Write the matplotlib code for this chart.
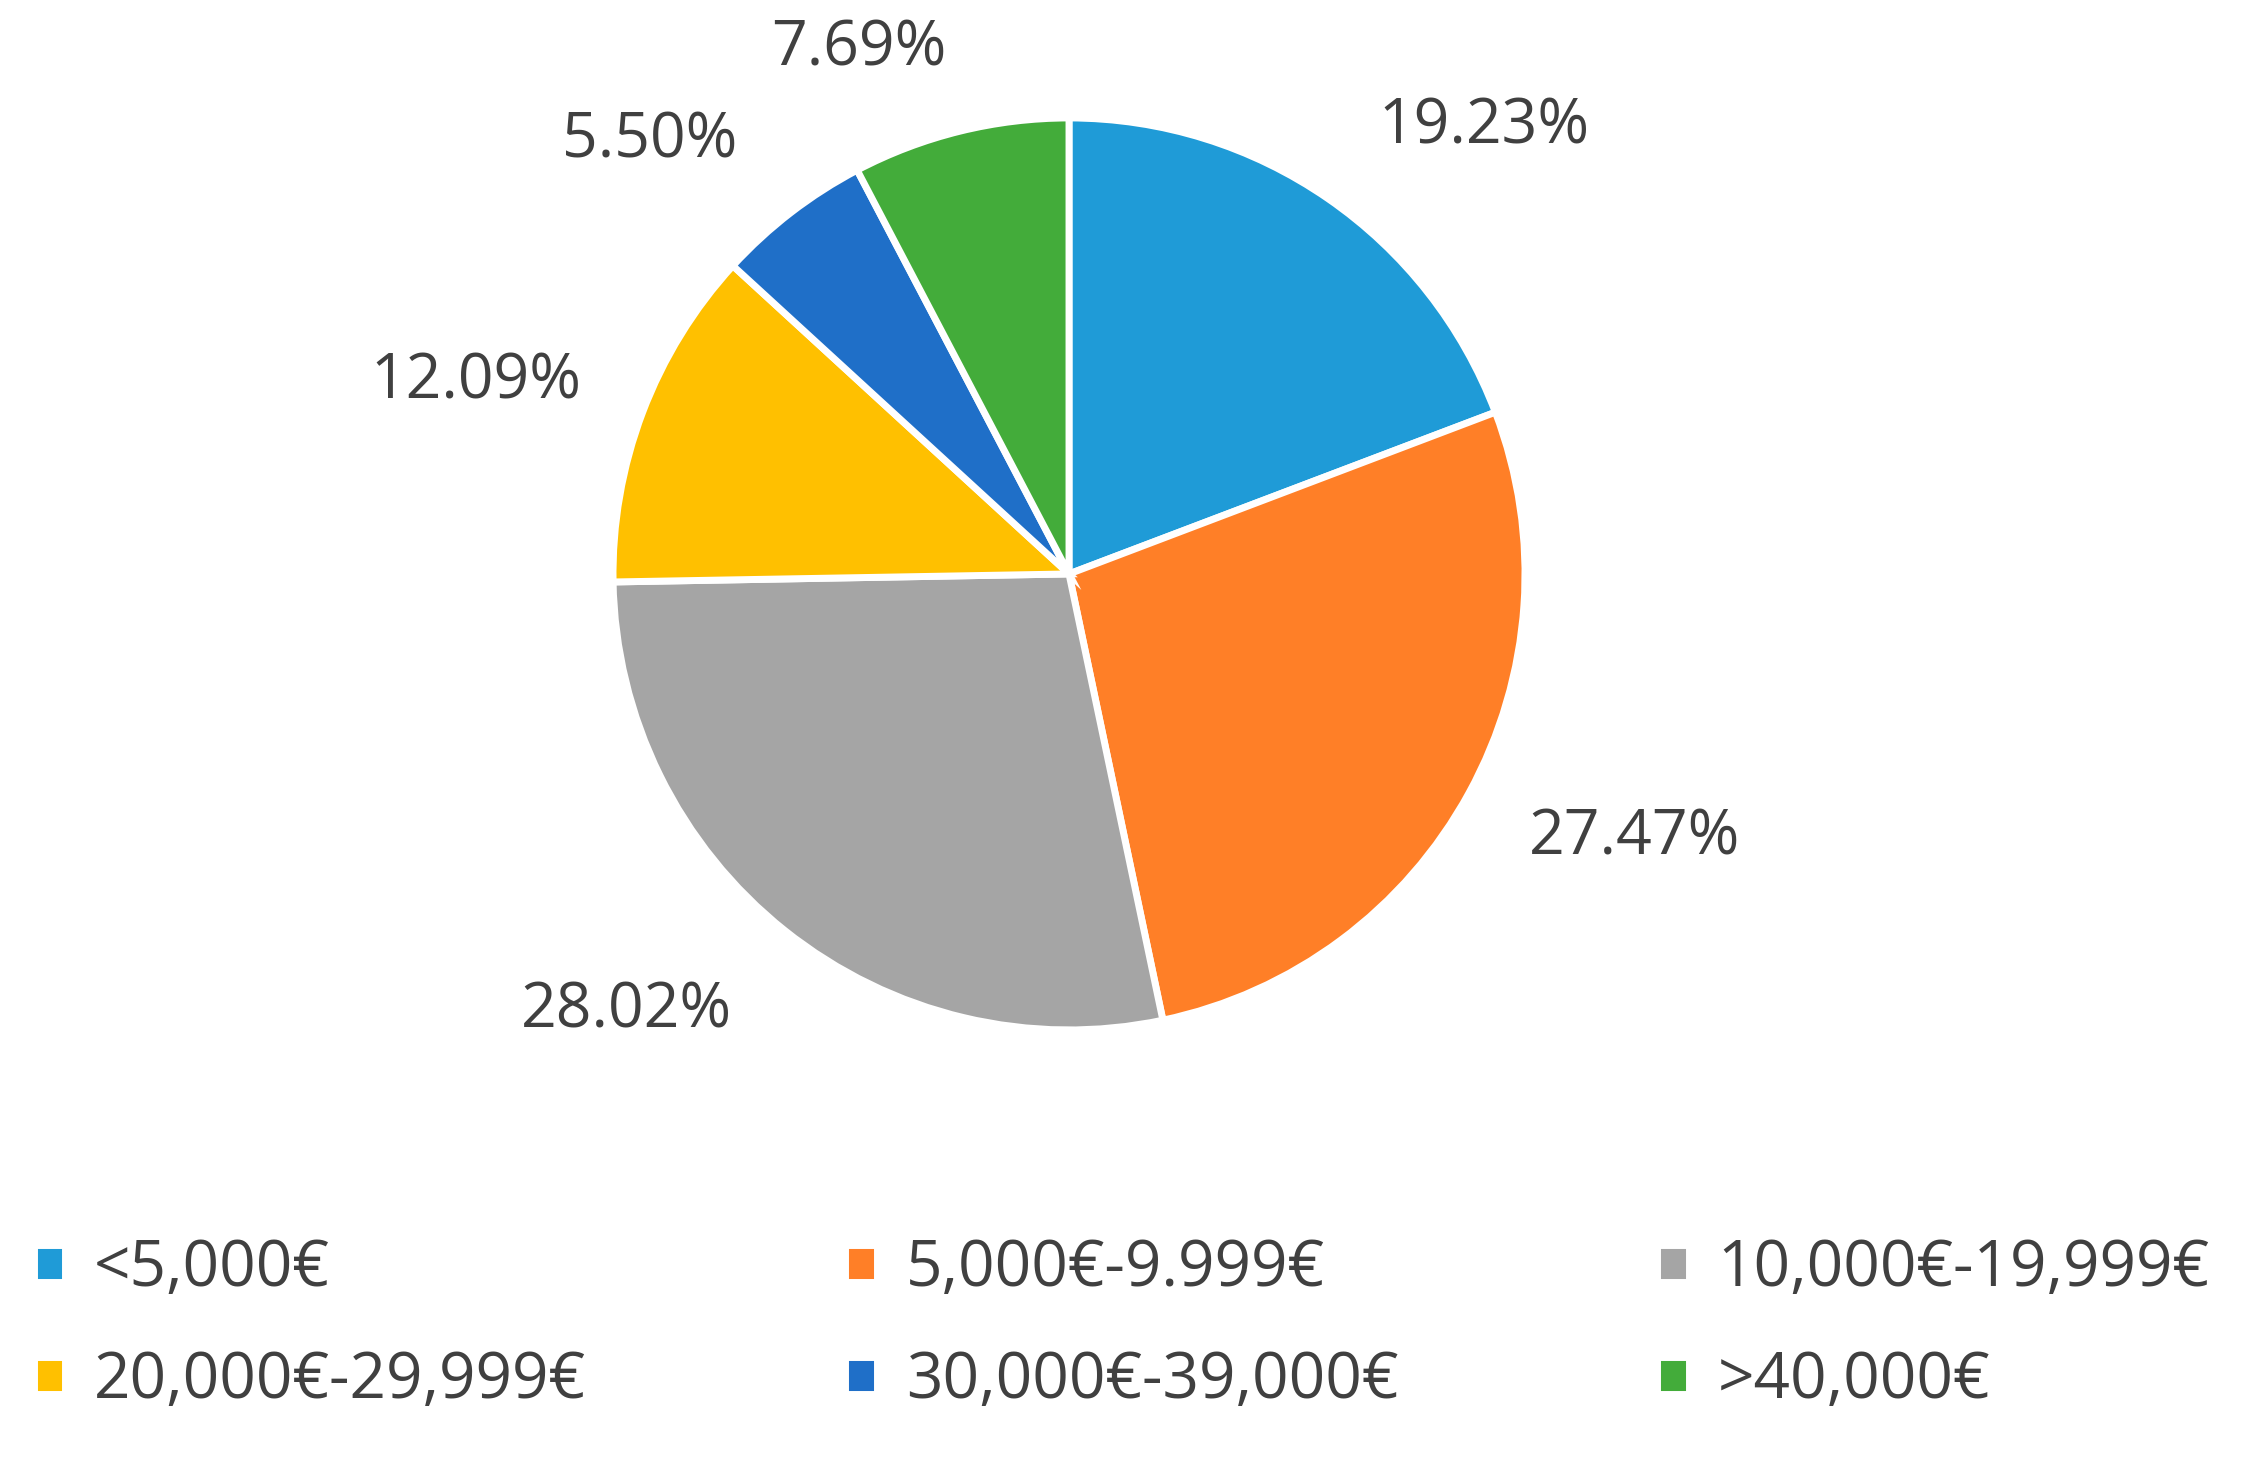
import matplotlib.pyplot as plt

labels = ["<5,000€", "5,000€-9.999€", "10,000€-19,999€",
          "20,000€-29,999€", "30,000€-39,000€", ">40,000€"]
shares = [19.23, 27.47, 28.02, 12.09, 5.50, 7.69]
colors = ["#1F9BD7", "#FF7F27", "#A5A5A5", "#FFC000", "#1F6FC8", "#43AC3A"]

# where each percentage label sits, in pie radius units (layout only)
label_pos = [(0.91, 0.98), (1.24, -0.58), (-0.97, -0.96),
             (-1.30, 0.42), (-0.92, 0.95), (-0.46, 1.15)]

plt.rcParams['font.family'] = ['Open Sans', 'DejaVu Sans']

fig = plt.figure(figsize=(22.43, 14.58), dpi=100)
ax = fig.add_axes([0.2733, 0.2936, 0.4066, 0.6255])

wedges, texts, autotexts = ax.pie(
    shares, colors=colors, startangle=90, counterclock=False,
    autopct='%1.2f%%', pctdistance=1.3, radius=1.0,
    wedgeprops=dict(edgecolor='white', linewidth=5),
    textprops=dict(fontsize=45, color='#404040'))
for t, pos in zip(autotexts, label_pos):
    t.set_position(pos)
    t.set_clip_on(False)
ax.set_xlim(-1, 1)
ax.set_ylim(-1, 1)
ax.set_aspect('equal')

# legend fills column-wise, reorder so rows read left to right
order = [0, 3, 1, 4, 2, 5]
fig.legend([wedges[i] for i in order], [labels[i] for i in order],
           ncol=3, loc='lower left', bbox_to_anchor=(-0.005, 0.0, 1.01, 0.2),
           mode='expand', frameon=False, fontsize=46,
           handlelength=0.5, handleheight=0.5, handletextpad=0.45,
           labelspacing=0.75, labelcolor='#404040', borderaxespad=0.3)

fig.savefig("out.png", dpi=100)
